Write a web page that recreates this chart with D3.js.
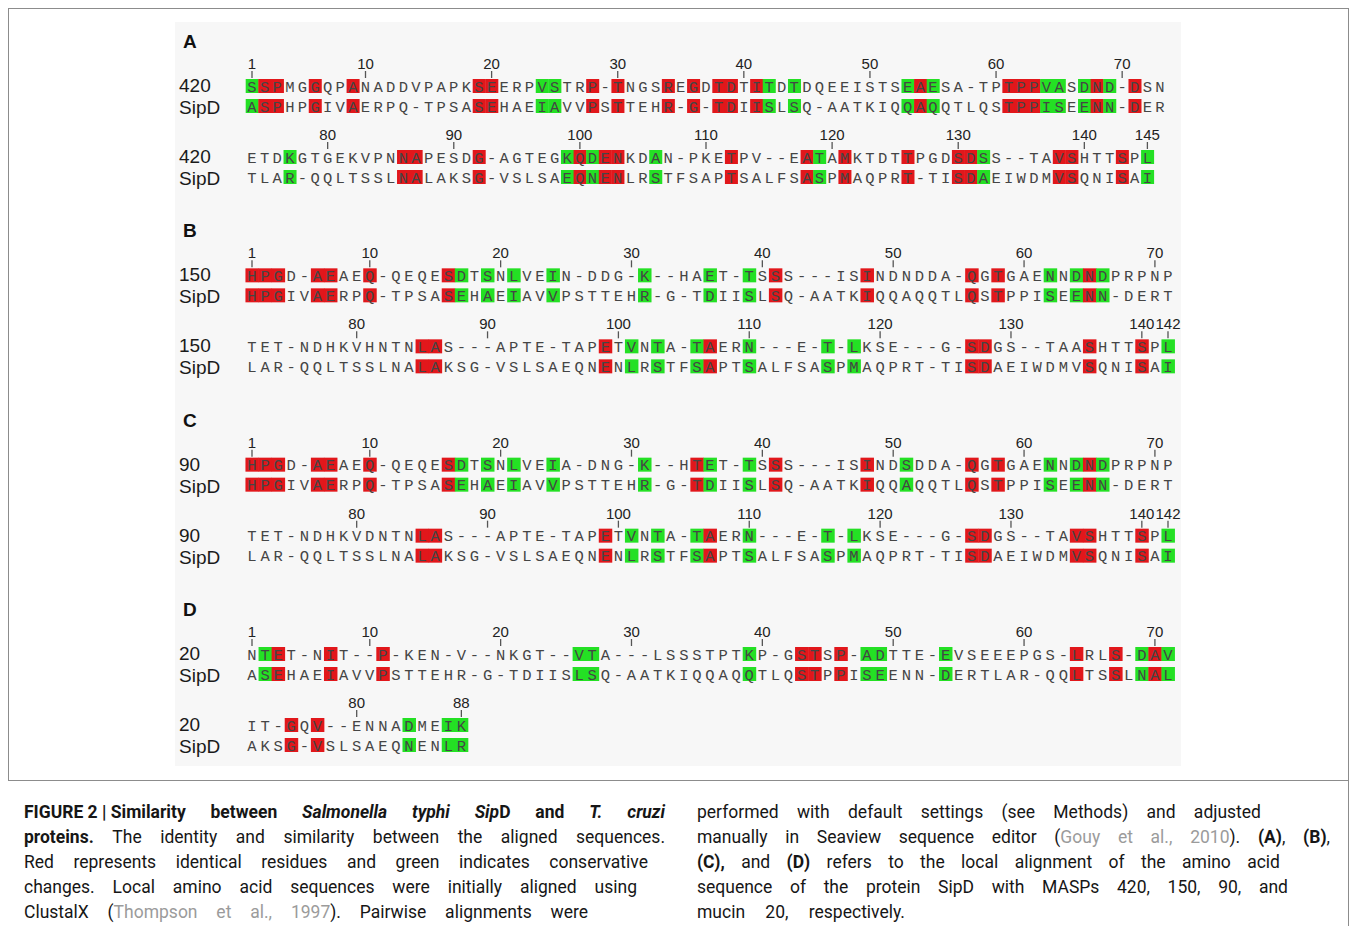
<!DOCTYPE html>
<html>
<head>
<meta charset="utf-8">
<script src="https://cdn.jsdelivr.net/npm/d3@7"></script>
<style>
  html, body { margin: 0; padding: 0; background: #fff; }
  svg { display: block; }
</style>
</head>
<body>
<svg id="fig" width="1356" height="926"></svg>
<script>
// ---- Alignment data -------------------------------------------------------
const panelLetters = ["A", "B", "C", "D"];
const maspNames = ["420", "150", "90", "20"];
const partnerName = "SipD";

// Each panel: [first block, second block] of aligned residues ("-" = gap)
const maspSeqs = [
  ["SSPMGGQPANADDVPAPKSEERPVSTRP-TNGSREGDTDTITDTDQEEISTSEAESA-TPTPPVASDND-DSN",
   "ETDKGTGEKVPNNAPESDG-AGTEGKQDENKDAN-PKETPV--EATAMKTDTTPGDSDSS--TAVSHTTSPL"],
  ["HPGD-AEAEQ-QEQESDTSNLVEIN-DDG-K--HAET-TSSS---ISINDNDDA-QGTGAENNDNDPRPNP",
   "TET-NDHKVHNTNLAS---APTE-TAPETVNTA-TAERN---E-T-LKSE---G-SDGS--TAASHTTSPL"],
  ["HPGD-AEAEQ-QEQESDTSNLVEIA-DNG-K--HTET-TSSS---ISINDSDDA-QGTGAENNDNDPRPNP",
   "TET-NDHKVDNTNLAS---APTE-TAPETVNTA-TAERN---E-T-LKSE---G-SDGS--TAVSHTTSPL"],
  ["NTET-NIT--P-KEN-V--NKGT--VTA---LSSSTPTKP-GSTSP-ADTTE-EVSEEEPGS-LRLS-DAV",
   "IT-GQV--ENNADMEIK"]
];
const sipdSeqs = [
  ["ASPHPGIVAERPQ-TPSASEHAEIAVVPSTTEHR-G-TDIISLSQ-AATKIQQAQQTLQSTPPISEENN-DER",
   "TLAR-QQLTSSLNALAKSG-VSLSAEQNENLRSTFSAPTSALFSASPMAQPRT-TISDAEIWDMVSQNISAI"],
  ["HPGIVAERPQ-TPSASEHAEIAVVPSTTEHR-G-TDIISLSQ-AATKIQQAQQTLQSTPPISEENN-DERT",
   "LAR-QQLTSSLNALAKSG-VSLSAEQNENLRSTFSAPTSALFSASPMAQPRT-TISDAEIWDMVSQNISAI"],
  ["HPGIVAERPQ-TPSASEHAEIAVVPSTTEHR-G-TDIISLSQ-AATKIQQAQQTLQSTPPISEENN-DERT",
   "LAR-QQLTSSLNALAKSG-VSLSAEQNENLRSTFSAPTSALFSASPMAQPRT-TISDAEIWDMVSQNISAI"],
  ["ASEHAEIAVVPSTTEHR-G-TDIISLSQ-AATKIQQAQQTLQSTPPISEENN-DERTLAR-QQLTSSLNAL",
   "AKSG-VSLSAEQNENLR"]
];

// Alignment column where each block starts
const blockStarts = [[1, 74], [1, 72], [1, 72], [1, 72]];

// Ruler tick labels per block
const rulerTicks = [
  [[1, 10, 20, 30, 40, 50, 60, 70], [80, 90, 100, 110, 120, 130, 140, 145]],
  [[1, 10, 20, 30, 40, 50, 60, 70], [80, 90, 100, 110, 120, 130, 140, 142]],
  [[1, 10, 20, 30, 40, 50, 60, 70], [80, 90, 100, 110, 120, 130, 140, 142]],
  [[1, 10, 20, 30, 40, 50, 60, 70], [80, 88]]
];

// Columns with identical residues (red)
const identicalCols = [
  [2, 3, 6, 9, 19, 20, 28, 30, 34, 36, 38, 39, 41, 54, 61, 62, 63, 68, 71,
   86, 87, 92, 100, 102, 103, 112, 118, 121, 126, 130, 131, 138, 139, 143],
  [1, 2, 3, 6, 7, 10, 16, 41, 48, 56, 58, 65,
   85, 86, 99, 107, 127, 128, 136, 140],
  [1, 2, 3, 6, 7, 10, 16, 35, 41, 48, 56, 58, 65,
   85, 86, 99, 107, 127, 128, 135, 136, 140],
  [3, 7, 11, 43, 44, 46, 64, 67, 70, 75, 77]
];
// Columns with conservative changes (green)
const conservativeCols = [
  [1, 24, 25, 42, 44, 53, 55, 64, 65, 67, 69,
   77, 99, 101, 106, 119, 132, 145],
  [17, 19, 21, 24, 31, 36, 39, 62, 64, 66,
   101, 103, 106, 110, 116, 118, 142],
  [17, 19, 21, 24, 31, 36, 39, 51, 62, 64, 66,
   101, 103, 106, 110, 116, 118, 142],
  [2, 26, 27, 39, 48, 49, 54, 69, 71, 84, 87, 88]
];

// ---- Caption ---------------------------------------------------------------
// markup: * toggles bold, _ toggles italic, ~ toggles grey (citation); \u00a0 keeps words together
const captionLeft = [
  "*FIGURE\u00a02\u00a0|\u00a0Similarity between _Salmonella typhi Sip_D and _T. cruzi_*",
  "*proteins.* The identity and similarity between the aligned sequences.",
  "Red represents identical residues and green indicates conservative",
  "changes. Local amino acid sequences were initially aligned using",
  "ClustalX (~Thompson et al., 1997~). Pairwise alignments were"
];
const captionRight = [
  "performed with default settings (see Methods) and adjusted",
  "manually in Seaview sequence editor (~Gouy et al., 2010~). *(A)*, *(B)*,",
  "*(C),* and *(D)* refers to the local alignment of the amino acid",
  "sequence of the protein SipD with MASPs 420, 150, 90, and",
  "mucin 20, respectively."
];

// ---- Drawing ---------------------------------------------------------------
const RED = "#e1171b";
const GREEN = "#24e024";
const svg = d3.select("#fig");

// frame
svg.append("rect").attr("x", 8.5).attr("y", 8.5).attr("width", 1340).attr("height", 772)
  .attr("fill", "none").attr("stroke", "#8c8c8c").attr("stroke-width", 1);
svg.append("line").attr("x1", 1348.5).attr("x2", 1348.5).attr("y1", 780).attr("y2", 926)
  .attr("stroke", "#8c8c8c");

// figure area
svg.append("rect").attr("x", 175).attr("y", 22).attr("width", 1006).attr("height", 744)
  .attr("fill", "#f7f7f7");

const panelY = d3.scaleLinear().domain([0, 3]).range([41, 609]);
const rowEnd = [1160, 1168, 1168, 1168];
const seqStart = 252;

panelLetters.forEach((letter, p) => {
  const g = svg.append("g").attr("transform", `translate(0,${panelY(p)})`);
  g.append("text").attr("x", 183).attr("y", 7).text(letter)
    .attr("font-family", "Liberation Sans, Arial, sans-serif")
    .attr("font-weight", 700).attr("font-size", 19).attr("fill", "#111");

  const n1 = maspSeqs[p][0].length;
  const x = d3.scaleLinear().domain([1, n1]).range([seqStart, rowEnd[p]]);
  const pitch = x(2) - x(1);
  const ident = new Set(identicalCols[p]);
  const cons = new Set(conservativeCols[p]);
  const fillOf = col => ident.has(col) ? RED : (cons.has(col) ? GREEN : null);

  [0, 1].forEach(b => {
    const start = blockStarts[p][b];
    const by = b === 0 ? 0 : 71;
    const xc = col => x(col - start + 1);

    // ruler
    const ruler = g.append("g").attr("transform", `translate(0,${by})`);
    ruler.selectAll("line").data(rulerTicks[p][b]).join("line")
      .attr("x1", d => xc(d)).attr("x2", d => xc(d))
      .attr("y1", 30).attr("y2", 37)
      .attr("stroke", "#555").attr("stroke-width", 1.3);
    ruler.selectAll("text").data(rulerTicks[p][b]).join("text")
      .attr("x", d => xc(d)).attr("y", 28)
      .attr("text-anchor", "middle")
      .attr("font-family", "Liberation Sans, Arial, sans-serif")
      .attr("font-size", 15).attr("fill", "#222")
      .text(d => d);

    const rows = [[maspNames[p], maspSeqs[p][b]], [partnerName, sipdSeqs[p][b]]];
    rows.forEach(([name, seq], r) => {
      const cy = by + 45 + r * 20;
      const rg = g.append("g");
      rg.append("text").attr("x", 179).attr("y", cy + (r === 0 ? 6 : 8)).text(name)
        .attr("font-family", "Liberation Sans, Arial, sans-serif")
        .attr("font-size", 19).attr("fill", "#1a1a1a");

      const cells = Array.from(seq, (ch, i) => ({ ch, col: start + i }));
      rg.selectAll("rect").data(cells.filter(d => fillOf(d.col))).join("rect")
        .attr("x", d => xc(d.col) - pitch / 2)
        .attr("y", cy - 7)
        .attr("width", pitch + 0.4)
        .attr("height", 14)
        .attr("fill", d => fillOf(d.col));
      rg.selectAll("text.res").data(cells).join("text")
        .attr("class", "res")
        .attr("x", d => xc(d.col)).attr("y", cy + 5.5)
        .attr("text-anchor", "middle")
        .attr("font-family", "Liberation Mono, Courier New, monospace")
        .attr("font-size", 15.5).attr("fill", "#454545")
        .text(d => d.ch);
    });
  });
});

// caption with justified words
function parseLine(str) {
  const tokens = [];
  let cur = [], seg = "", bold = false, ital = false, grey = false;
  const flush = () => { if (seg) { cur.push({ t: seg, bold, ital, grey }); seg = ""; } };
  for (const ch of str) {
    if (ch === "*") { flush(); bold = !bold; }
    else if (ch === "_") { flush(); ital = !ital; }
    else if (ch === "~") { flush(); grey = !grey; }
    else if (ch === " ") { flush(); if (cur.length) tokens.push(cur); cur = []; }
    else seg += ch;
  }
  flush(); if (cur.length) tokens.push(cur);
  return tokens;
}

function drawCaption(lines, x0, ends, y0) {
  lines.forEach((line, i) => {
    const y = y0 + i * 25;
    const toks = parseLine(line);
    const lg = svg.append("g");
    const words = toks.map(tok => {
      const t = lg.append("text").attr("y", y)
        .attr("font-family", "Roboto, Liberation Sans, sans-serif")
        .attr("font-size", 17.5).attr("xml:space", "preserve");
      tok.forEach(s => {
        t.append("tspan").text(s.t)
          .attr("font-weight", s.bold ? 700 : 400)
          .attr("font-style", s.ital ? "italic" : "normal")
          .attr("fill", s.grey ? "#9b9b9b" : "#161616");
      });
      return { node: t, w: t.node().getComputedTextLength() };
    });
    const total = d3.sum(words, d => d.w);
    const target = ends[i] - x0;
    let gap = words.length > 1 ? (target - total) / (words.length - 1) : 0;
    let sx = 1;
    if (gap < 4) { gap = 4; sx = target / (total + gap * (words.length - 1)); }
    let cx = 0;
    words.forEach(w => { w.node.attr("x", cx); cx += w.w + gap; });
    lg.attr("transform", `translate(${x0},0) scale(${sx},1)`);
  });
}

drawCaption(captionLeft, 24, [665, 665, 648, 637, 588], 818);
drawCaption(captionRight, 697, [1261, 1330, 1280, 1288, 905], 818);
</script>
</body>
</html>
